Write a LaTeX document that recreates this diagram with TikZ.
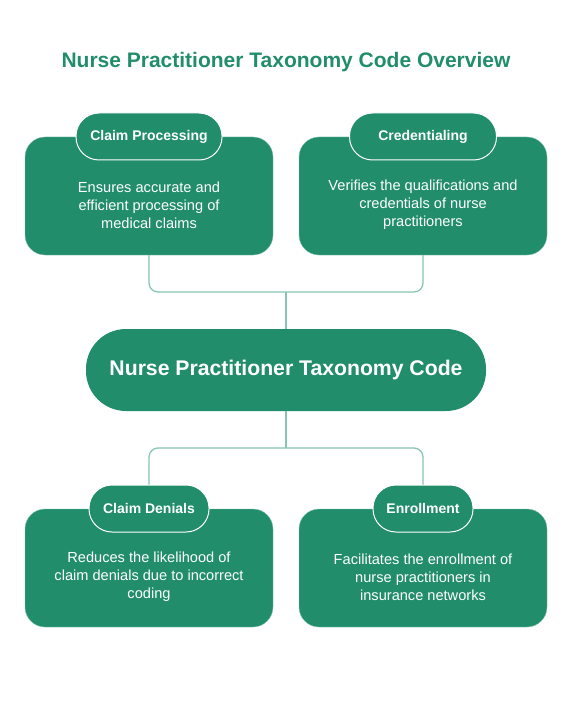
\documentclass[tikz,border=0pt]{standalone}
\usepackage{fontspec}
\setmainfont{Liberation Sans}
\usepackage{xcolor}
\usetikzlibrary{positioning}

\definecolor{npgreen}{HTML}{218D6B}
\definecolor{linkgreen}{HTML}{86C5B0}

\tikzset{
	card/.style={fill=npgreen, draw=linkgreen, line width=0.4pt, rounded corners=20pt, minimum width=248pt, minimum height=118pt},
	cardtext/.style={text=white, align=center, font=\fontsize{14.6}{18}\selectfont},
	tab/.style={fill=npgreen, draw=white, line width=1pt, rounded corners=23pt, minimum height=47pt, text=white, font=\bfseries\fontsize{14}{15}\selectfont},
	core/.style={fill=npgreen, rounded corners=40pt, minimum width=400pt, minimum height=82pt, text=white, font=\bfseries\fontsize{21.2}{24}\selectfont},
	link/.style={draw=linkgreen, line width=1.3pt, rounded corners=9pt},
}

\begin{document}
\begin{tikzpicture}[x=1pt, y=-1pt]
	\useasboundingbox (0, 0) rectangle (572, 714);

	\node[text=npgreen, font=\bfseries\fontsize{21}{24}\selectfont] (title) at (286, 62) {Nurse Practitioner Taxonomy Code Overview};

	% top row
	\node[card] (cpbox) at (149, 196) {};
	\node[cardtext] (cptext) at ([yshift=-9pt]cpbox.center) {Ensures accurate and\\efficient processing of\\medical claims};
	\node[tab, minimum width=146pt] (cptab) at (149, 136.5) {Claim Processing};

	\node[card] (crbox) at (423, 196) {};
	\node[cardtext] (crtext) at ([yshift=-9pt]crbox.center) {Verifies the qualifications and\\credentials of nurse\\practitioners};
	\node[tab, minimum width=147pt] (crtab) at (423, 136.5) {Credentialing};

	% centre
	\node[core] (code) at (286, 370) {Nurse Practitioner Taxonomy Code};

	% bottom row
	\node[card] (cdbox) at (149, 568) {};
	\node[cardtext] (cdtext) at ([yshift=-9pt]cdbox.center) {Reduces the likelihood of\\claim denials due to incorrect\\coding};
	\node[tab, minimum width=120pt] (cdtab) at (149, 508.5) {Claim Denials};

	\node[card] (enbox) at (423, 568) {};
	\node[cardtext] (entext) at ([yshift=-9pt]enbox.center) {Facilitates the enrollment of\\nurse practitioners in\\insurance networks};
	\node[tab, minimum width=100pt] (entab) at (423, 508.5) {Enrollment};

	% connectors
	\coordinate (topjoin) at (286, 292);
	\coordinate (botjoin) at (286, 448);
	\draw[link] (cpbox.south) |- (topjoin) -| (crbox.south);
	\draw[link] (topjoin) -- (code.north);
	\draw[link] (code.south) -- (botjoin);
	\draw[link] (cdtab.north) |- (botjoin) -| (entab.north);

\end{tikzpicture}
\end{document}
